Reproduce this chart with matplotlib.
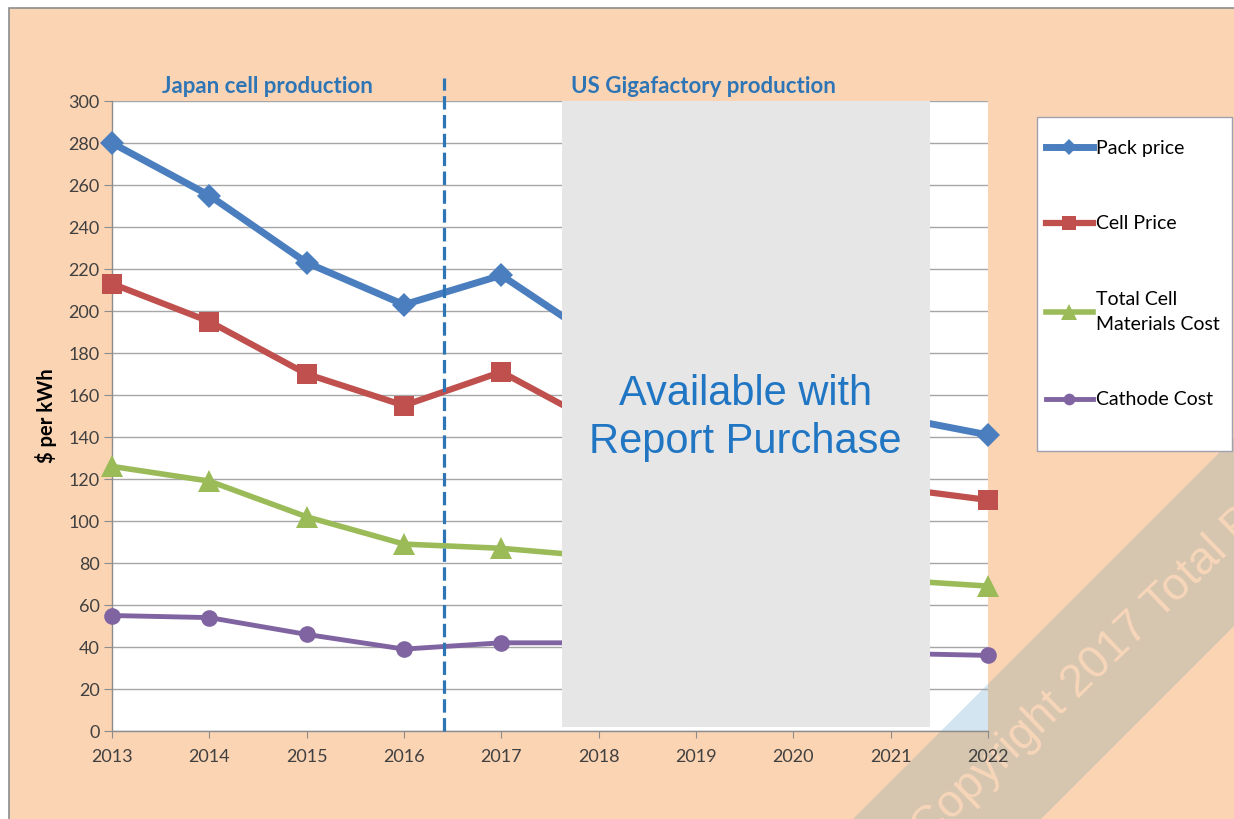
"""Battery pack / cell cost trend chart (2013-2022)."""

import matplotlib
matplotlib.use("Agg")
import matplotlib.pyplot as plt
from matplotlib.lines import Line2D
from matplotlib.patches import Rectangle, Polygon

YEARS = [2013, 2014, 2015, 2016, 2017, 2018, 2019, 2020, 2021, 2022]

# values; 2018-2021 are mostly hidden behind the grey box
PACK_PRICE = [280, 255, 223, 203, 217, 186, 175, 162, 150, 141]
CELL_PRICE = [213, 195, 170, 155, 171, 146, 136, 126, 116, 110]
MATERIALS_COST = [126, 119, 102, 89, 87, 83, 80, 76, 72, 69]
CATHODE_COST = [55, 54, 46, 39, 42, 42, 40, 38, 37, 36]

SERIES_LABELS = ["Pack price", "Cell Price", "Total Cell\nMaterials Cost", "Cathode Cost"]
SERIES_COLORS = ["#4A7EBF", "#C0504D", "#9BBB59", "#8064A2"]
SERIES_MARKERS = ["D", "s", "^", "o"]

Y_TICKS = list(range(0, 301, 20))
PRODUCTION_SPLIT = 2016.41
HIDDEN_SPAN = (2017.62, 2021.40)

W, H = 1234, 819
PEACH = "#FBD4B4"
LABEL_BLUE = "#2E75B6"
TEXT_DARK = "#404040"
CALIBRI_LIKE = ["Lato", "DejaVu Sans"]


def fx(x):
    return x / W


def fy(y):
    return 1 - y / H


fig = plt.figure(figsize=(W / 100, H / 100), dpi=100, facecolor="white")

# chart area background with thin frame (right / bottom edges run off the page)
fig.patches.append(Rectangle((fx(9), -0.05), 1.1, fy(8) + 0.05, transform=fig.transFigure,
                             facecolor=PEACH, edgecolor="#8C8C8C", linewidth=1.2,
                             zorder=-3))

# diagonal copyright band
band = [(fx(842), fy(830)), (fx(1250), fy(422)), (fx(1250), fy(610)), (fx(1030), fy(830))]
fig.patches.append(Polygon(band, closed=True, transform=fig.transFigure,
                           facecolor="#D6C5AF", edgecolor="none", zorder=-2))
fig.text(fx(919), fy(836), "Copyright 2017 Total Battery Consulting",
         rotation=44, rotation_mode="anchor", ha="left", va="center",
         fontsize=33, family="Liberation Sans", color="#F7D6BA", zorder=-1)

ax = fig.add_axes([fx(112), 1 - 731 / H, (988 - 112) / W, (731 - 101) / H])
ax.set_facecolor("white")
ax.set_xlim(YEARS[0], YEARS[-1])
ax.set_ylim(0, 300)
ax.set_yticks(Y_TICKS)
ax.set_xticks(YEARS)

ax.add_patch(Polygon(band, closed=True, transform=fig.transFigure,
                     facecolor="#D3E5F0", edgecolor="none", zorder=0.5))

ax.grid(axis="y", color="#A6A6A6", linewidth=1.0, zorder=1)
ax.set_axisbelow(True)
for side in ("top", "right"):
    ax.spines[side].set_visible(False)
for side in ("left", "bottom"):
    ax.spines[side].set_color("#8C8C8C")
    ax.spines[side].set_linewidth(1.0)
ax.tick_params(axis="y", direction="out", length=6, color="#8C8C8C", pad=3,
               labelsize=13, labelcolor=TEXT_DARK)
ax.tick_params(axis="x", direction="out", length=5, color="#8C8C8C", pad=8,
               labelsize=13, labelcolor=TEXT_DARK)
for lab in ax.get_xticklabels() + ax.get_yticklabels():
    lab.set_family(CALIBRI_LIKE)

line_widths = [5.0, 4.5, 4.0, 3.5]
marker_sizes = [12, 15, 16, 12]
for values, color, marker, lw, ms in zip(
        [PACK_PRICE, CELL_PRICE, MATERIALS_COST, CATHODE_COST],
        SERIES_COLORS, SERIES_MARKERS, line_widths, marker_sizes):
    ax.plot(YEARS, values, color=color, linewidth=lw, marker=marker,
            markersize=ms, markeredgewidth=0, clip_on=False, zorder=3)

ax.axvline(PRODUCTION_SPLIT, ymin=0, ymax=1.037, color=LABEL_BLUE, linewidth=2.3,
           dashes=(4.2, 1.7), clip_on=False, zorder=4)

# grey box hiding the purchased forecast
ax.add_patch(Rectangle((HIDDEN_SPAN[0], 2), HIDDEN_SPAN[1] - HIDDEN_SPAN[0], 298,
                       facecolor="#E6E6E6", edgecolor="none", zorder=5))
ax.text(sum(HIDDEN_SPAN) / 2, 149, "Available with\nReport Purchase",
        ha="center", va="center", fontsize=30, family="Liberation Sans",
        color="#2176C4", linespacing=1.27, zorder=6)

ax.text(2014.6, 302, "Japan cell production", ha="center", va="bottom",
        fontsize=16, fontweight="bold", family=CALIBRI_LIKE, color=LABEL_BLUE)
ax.text(2019.08, 302, "US Gigafactory production", ha="center", va="bottom",
        fontsize=16, fontweight="bold", family=CALIBRI_LIKE, color=LABEL_BLUE)

ax.set_ylabel("$ per kWh", fontsize=14.5, fontweight="bold", family=CALIBRI_LIKE,
              color="black", labelpad=8)

# legend with its own box
fig.patches.append(Rectangle((fx(1037), fy(451)), (1232 - 1037) / W, (451 - 117) / H,
                             transform=fig.transFigure, facecolor="white",
                             edgecolor="#A0A0B0", linewidth=1.0, zorder=3))
handles = [Line2D([], [], color=c, marker=m, linewidth=lw, markersize=ms * 0.7,
                  markeredgewidth=0)
           for c, m, lw, ms in zip(SERIES_COLORS, SERIES_MARKERS, line_widths, marker_sizes)]
leg = fig.legend(handles, SERIES_LABELS, loc="upper left",
                 bbox_to_anchor=(fx(1046), fy(140)), frameon=False, borderpad=0,
                 borderaxespad=0, handlelength=2.4, handletextpad=0.15, labelspacing=3.0,
                 prop={"family": CALIBRI_LIKE, "size": 14})
leg.get_texts()[2].set_linespacing(1.6)

fig.savefig("out.png", dpi=100, facecolor="white")
